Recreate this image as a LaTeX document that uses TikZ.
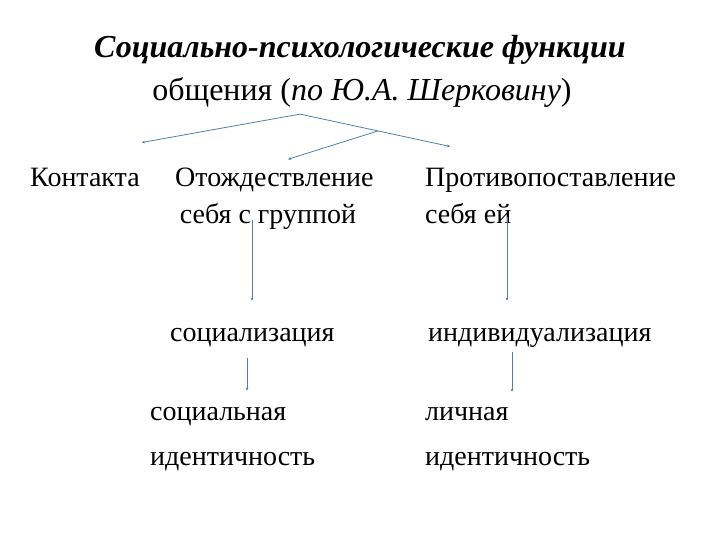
\documentclass[tikz,border=0pt]{standalone}
\usepackage{fontspec}
\setmainfont{Liberation Serif}
\usetikzlibrary{positioning,arrows.meta,calc}
\definecolor{linkblue}{RGB}{84,125,172}

\begin{document}
\begin{tikzpicture}[
    x=1pt,y=-1pt,
    font=\fontsize{28}{37}\selectfont,
    item/.style={anchor=base west,inner sep=0pt,align=left},
    head/.style={anchor=base,inner sep=0pt,font=\fontsize{32}{40}\selectfont},
    link/.style={-{Stealth[length=3pt,width=3pt]},draw=linkblue,line width=0.8pt}
]
  \useasboundingbox (0,0) rectangle (720,540);
  \node[head] (title) at (360,58) {\bfseries\itshape Социально-психологические функции};
  \node[head] (subtitle) at (362,101) {общения (\textit{по Ю.А. Шерковину})};

  % the last line of each block sits on the given baseline
  \node[item] (kont) at (30,187) {Контакта};
  \node[item] (otozh) at (175,224) {Отождествление\\\,себя с группой};
  \node[item] (protiv) at (425,224) {Противопоставление\\себя ей};
  \node[item] (soc) at (170,341) {социализация};
  \node[item] (indiv) at (428,341) {индивидуализация};
  \node[item,font=\fontsize{28}{45}\selectfont] (socid) at (150,465) {социальная\\идентичность};
  \node[item,font=\fontsize{28}{45}\selectfont] (lichid) at (425,465) {личная\\идентичность};

  % branches under the title
  \coordinate (split) at ($(subtitle.south)+(-62,6)$);
  \coordinate (endp) at ($(protiv.north west)+(25,-22)$);
  \coordinate (fork) at ($(split)!0.52!(endp)$);
  \draw[link] (split) -- ($(kont.north east)+(2,-26)$);
  \draw[link] (split) -- (endp);
  \draw[link] (fork) -- ($(otozh.north west)+(113,-9)$);

  % down the columns
  \coordinate (l1) at ($(otozh.south west)+(77,-10)$);
  \draw[link] (l1) -- ([yshift=27pt]l1 |- soc.north);
  \coordinate (r1) at ($(protiv.south west)+(82,-7)$);
  \draw[link] (r1) -- ([yshift=27pt]r1 |- indiv.north);
  \coordinate (l2) at ($(soc.south west)+(77,11)$);
  \draw[link] (l2) -- ([yshift=16pt]l2 |- socid.north);
  \coordinate (r2) at ($(indiv.south west)+(84,5)$);
  \draw[link] (r2) -- ([yshift=15pt]r2 |- lichid.north);
\end{tikzpicture}
\end{document}
